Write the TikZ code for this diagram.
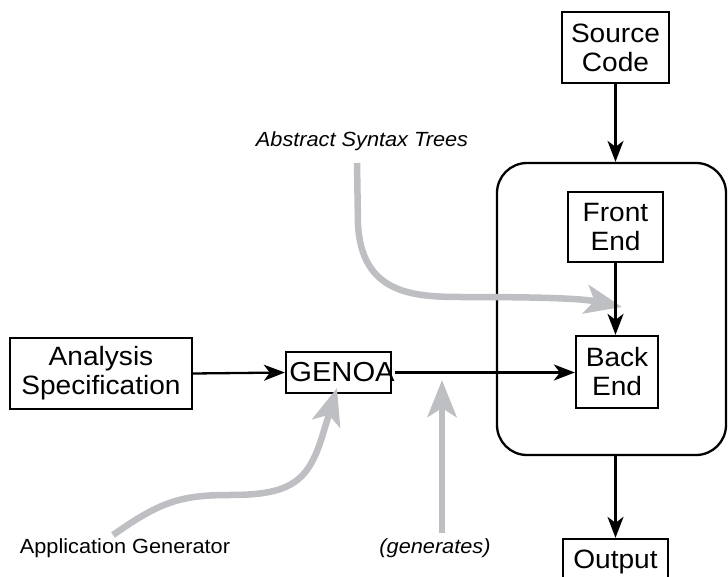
\documentclass[tikz,border=0pt]{standalone}
\usepackage{fontspec}
\setmainfont[FakeStretch=1.06]{Liberation Sans}
\usetikzlibrary{arrows.meta}
\definecolor{garrowc}{RGB}{190,191,194}
\tikzset{
  box/.style={draw, line width=2.3pt, inner sep=0pt, align=center, font=\fontsize{26.5}{29}\selectfont},
  lbl/.style={inner sep=0pt, anchor=base, font=\fontsize{20.5}{24}\selectfont},
  barrow/.style={line width=2.3pt, -{Stealth[length=21pt,width=16pt,inset=6pt]}},
  garrow/.style={draw=garrowc, line width=6.5pt, -{Stealth[length=37pt,width=29pt,inset=9pt]}},
}
\begin{document}
\begin{tikzpicture}[x=1pt,y=-1pt]
\useasboundingbox (0,0) rectangle (728,577);
% container
\node[draw, line width=2.3pt, rounded corners=30pt, minimum width=229pt, minimum height=292pt, inner sep=0pt] (cont) at (611.5,309) {};
% boxes
\node[box, minimum width=107pt, minimum height=71pt] (src) at (615.5,47.5) {Source\\Code};
\node[box, minimum width=95pt, minimum height=70pt] (fe) at (615.5,227) {Front\\End};
\node[box, minimum width=82pt, minimum height=72pt] (be) at (617,372) {Back\\End};
\node[box, minimum width=105pt, minimum height=41pt] (out) at (615.5,559.5) {};
\node[lbl, font=\fontsize{26.5}{29}\selectfont] (outt) at (615.5,568) {Output};
\node[box, minimum width=182pt, minimum height=71pt] (ana) at (101,373.5) {Analysis\\Specification};
\node[box, minimum width=105pt, minimum height=41pt] (gen) at (338.5,372.5) {};
\node[inner sep=0pt, font=\fontsize{27.5}{30}\selectfont] (gent) at (342,372.5) {GENOA};
% labels
\node[lbl, font=\fontsize{20.5}{24}\itshape] (ast) at (362,147) {Abstract Syntax Trees};
\node[lbl] (app) at (125,553) {Application Generator};
\node[lbl, font=\fontsize{20.5}{24}\itshape] (gens) at (435,553) {(generates)};
% gray arrow coordinates
\coordinate (astS) at (357,163);
\coordinate (astE) at (622,307);
\coordinate (appS) at (113,535);
\coordinate (appE) at (337,388);
\coordinate (genS) at (442,533);
\coordinate (genE) at (442,380);
\draw[garrow] (astS) -- (358,225) .. controls (362,292) and (410,297) .. (460,297) .. controls (530,297) and (580,298) .. (astE);
\draw[garrow] (appS) .. controls (160,502) and (180,495) .. (230,495) .. controls (290,495) and (308,482) .. (322,437) -- (appE);
\draw[garrow] (genS) -- (genE);
% black arrows
\draw[barrow] (src.south) -- (cont.north -| src.south);
\draw[barrow] (fe.south) -- (be.north -| fe.south);
\draw[barrow] (cont.south -| out.north) -- (out.north);
\draw[barrow] (ana.east) -- (gen.west);
\draw[barrow] (gent.east) -- (be.west |- gent.east);
\end{tikzpicture}
\end{document}
